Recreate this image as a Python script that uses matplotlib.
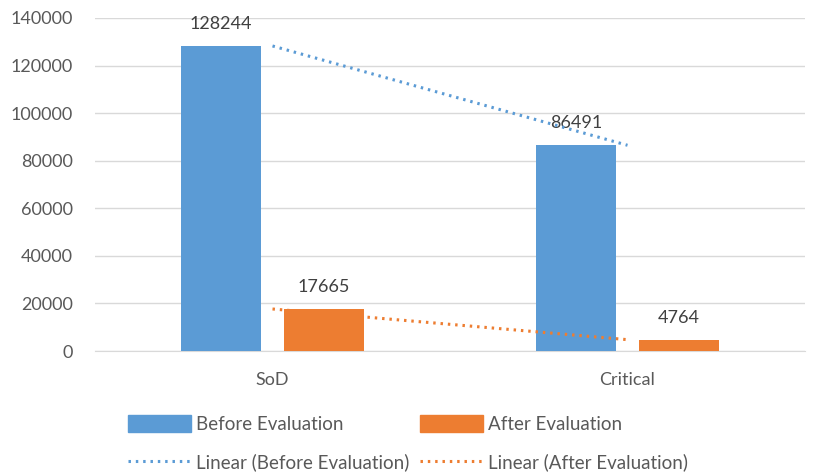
import matplotlib
matplotlib.use("Agg")
import matplotlib.pyplot as plt
import numpy as np
from matplotlib.patches import Patch
from matplotlib.lines import Line2D

categories = ["SoD", "Critical"]
before = [128244, 86491]
after = [17665, 4764]
yticks = [0, 20000, 40000, 60000, 80000, 100000, 120000, 140000]

BLUE = "#5B9BD5"
ORANGE = "#ED7D31"
TXT = "#595959"
FS = 13

plt.rcParams['font.family'] = ['Lato', 'DejaVu Sans']

fig = plt.figure(figsize=(8.14, 4.74), dpi=100)
ax = fig.add_axes([95/814, 1-351/474, (805-95)/814, (351-18)/474])

x = np.arange(len(categories))
w = 0.225
off = 0.145
ax.bar(x - off, before, w, color=BLUE, zorder=3)
ax.bar(x + off, after, w, color=ORANGE, zorder=3)

for xi, v in zip(x - off, before):
    ax.annotate(str(v), (xi, v), xytext=(0, 10), textcoords="offset points",
                ha="center", va="bottom", fontsize=FS, color="#404040")
for xi, v in zip(x + off, after):
    ax.annotate(str(v), (xi, v), xytext=(0, 10), textcoords="offset points",
                ha="center", va="bottom", fontsize=FS, color="#404040")

# linear trendlines
cb = np.polyfit(x, before, 1)
ca = np.polyfit(x, after, 1)
ax.plot(x, np.polyval(cb, x), color=BLUE, lw=2.2, ls=(0, (0.8, 1.6)), zorder=4)
ax.plot(x, np.polyval(ca, x), color=ORANGE, lw=2.2, ls=(0, (0.8, 1.6)), zorder=4)

ax.set_xlim(-0.5, 1.5)
ax.set_ylim(0, 140000)
ax.set_yticks(yticks)
ax.set_yticklabels([str(t) for t in yticks])
ax.set_xticks(x)
ax.set_xticklabels(categories)
ax.yaxis.grid(True, color="#D9D9D9", lw=1, zorder=0)
ax.set_axisbelow(True)
for s in ["top", "right", "left"]:
    ax.spines[s].set_visible(False)
ax.spines["bottom"].set_color("#D9D9D9")
ax.tick_params(axis="both", length=0, labelsize=FS, labelcolor=TXT)
ax.tick_params(axis="y", pad=16)
ax.tick_params(axis="x", pad=15)

handles = [
    Patch(color=BLUE, label="Before Evaluation"),
    Line2D([], [], color=BLUE, lw=2.2, ls=(0, (0.8, 1.6)), label="Linear (Before Evaluation)"),
    Patch(color=ORANGE, label="After Evaluation"),
    Line2D([], [], color=ORANGE, lw=2.2, ls=(0, (0.8, 1.6)), label="Linear (After Evaluation)"),
]
fig.legend(handles=handles, ncol=2, loc="center left",
           bbox_to_anchor=(111/814, 1-443/474), frameon=False,
           fontsize=13.5, labelcolor=TXT, handlelength=3.35, handleheight=1.0,
           handletextpad=0.3, columnspacing=0.55, labelspacing=1.1)

fig.savefig("out.png", dpi=100)
